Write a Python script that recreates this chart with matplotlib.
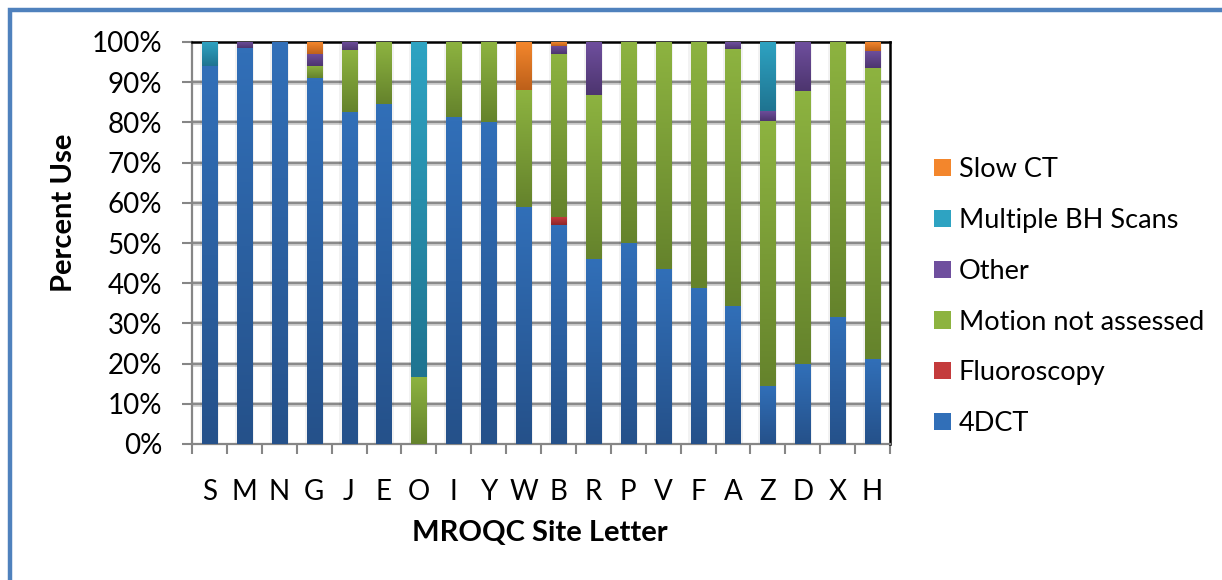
import numpy as np
import matplotlib
matplotlib.use("Agg")
import matplotlib.pyplot as plt
from matplotlib.colors import LinearSegmentedColormap
from matplotlib.patches import Rectangle, Patch

plt.rcParams['font.family'] = ['Lato', 'DejaVu Sans']

sites = ["S", "M", "N", "G", "J", "E", "O", "I", "Y", "W",
         "B", "R", "P", "V", "F", "A", "Z", "D", "X", "H"]
fourdct = [94.0, 98.5, 100.0, 91.1, 82.7, 84.7, 0.0, 81.3, 80.0, 59.0,
           54.4, 46.0, 50.0, 43.6, 38.7, 34.3, 14.4, 19.8, 31.5, 21.1]
fluoroscopy = [0, 0, 0, 0, 0, 0, 0, 0, 0, 0,
               1.95, 0, 0, 0, 0, 0, 0, 0, 0, 0]
motion = [0, 0, 0, 3.0, 15.3, 15.3, 16.7, 18.7, 20.0, 29.1,
          40.65, 40.8, 50.0, 56.4, 61.3, 64.0, 65.9, 68.0, 68.5, 72.4]
other = [0, 1.5, 0, 3.0, 2.0, 0, 0, 0, 0, 0,
         2.1, 13.2, 0, 0, 0, 1.7, 2.5, 12.2, 0, 4.3]
multi_bh = [6.0, 0, 0, 0, 0, 0, 83.3, 0, 0, 0,
            0, 0, 0, 0, 0, 0, 17.2, 0, 0, 0]
slow_ct = [0, 0, 0, 2.9, 0, 0, 0, 0, 0, 11.9,
           0.9, 0, 0, 0, 0, 0, 0, 0, 0, 2.2]

series_names = ["4DCT", "Fluoroscopy", "Motion not assessed", "Other",
                "Multiple BH Scans", "Slow CT"]
series_vals = [fourdct, fluoroscopy, motion, other, multi_bh, slow_ct]
# (light top, dark bottom)
series_cols = [("#316fb8", "#25518a"), ("#c43b3c", "#8e2629"),
               ("#8db340", "#65832c"), ("#6f4f9e", "#4d356f"),
               ("#2ea3c2", "#1f7491"), ("#f3862c", "#bd601a")]

W, H = 1222, 580
fig = plt.figure(figsize=(W/100, H/100), dpi=100)
ax = fig.add_axes([192/W, 1-444/H, (890-192)/W, (444-42)/H])

x = np.arange(len(sites))
bw = 0.43
bottom = np.zeros(len(sites))
grad = np.linspace(0, 1, 64).reshape(-1, 1)
for name, vals, (cl, cd) in zip(series_names, series_vals, series_cols):
    vals = np.array(vals, dtype=float)
    ax.bar(x, vals, bw + 0.12, bottom=bottom, color="#000000", alpha=0.05,
           linewidth=0, zorder=2)
    bars = ax.bar(x, vals, bw, bottom=bottom, color=cl, linewidth=0, zorder=3)
    cmap = LinearSegmentedColormap.from_list(name, [cd, cl])
    for p in bars.patches:
        h = p.get_height()
        if h <= 0:
            continue
        x0, y0 = p.get_x(), p.get_y()
        im = ax.imshow(grad, extent=[x0, x0 + p.get_width(), y0, y0 + h],
                       cmap=cmap, aspect='auto', origin='lower', zorder=3.5,
                       interpolation='bilinear')
        im.set_clip_path(p)
    bottom += vals

ax.set_xlim(-0.5, len(sites) - 0.5)
ax.set_ylim(0, 100)
ax.set_aspect('auto')

ax.set_yticks(np.arange(0, 101, 10))
ax.set_yticklabels([f"{v}%" for v in range(0, 101, 10)], fontsize=20)
ax.set_xticks(x)
ax.set_xticklabels(sites, fontsize=20)
ax.set_xticks(np.arange(-0.5, len(sites), 1), minor=True)
ax.tick_params(axis='x', which='major', length=0, pad=25)
ax.tick_params(axis='x', which='minor', length=7.5, width=1.5, color="#868686")
ax.tick_params(axis='y', length=7.5, width=1.5, color="#868686", pad=14)

for v in range(10, 100, 10):
    ax.axhline(v, color="#d0d0d0", lw=3.5, zorder=0.5)
    ax.axhline(v, color="#8a8a8a", lw=1.6, zorder=1)

for s in ['left', 'bottom']:
    ax.spines[s].set_color("#868686")
    ax.spines[s].set_linewidth(1.6)
for s in ['top', 'right']:
    ax.spines[s].set_color("#000000")
    ax.spines[s].set_linewidth(1.8)

fig.text(64/W, 1-213/H, "Percent Use", fontsize=21, fontweight='bold',
         rotation=90, ha='center', va='center')
fig.text(540/W, 1-533/H, "MROQC Site Letter", fontsize=21, fontweight='bold',
         ha='center', va='center')

handles = [Patch(facecolor=c[0], edgecolor='none') for c in series_cols][::-1]
labels = series_names[::-1]
leg = fig.legend(handles, labels, loc='upper left',
                 bbox_to_anchor=(910/W, 1-133/H), frameon=False,
                 fontsize=19.5, handlelength=0.6, handleheight=0.6,
                 handletextpad=0.3, labelspacing=0.95)

fig.patches.append(Rectangle((10/W, -0.2), 2.0, 1 - 10/H + 0.2,
                             transform=fig.transFigure, fill=False,
                             edgecolor="#4f81bd", linewidth=3.2))

fig.savefig("out.png", dpi=100)
